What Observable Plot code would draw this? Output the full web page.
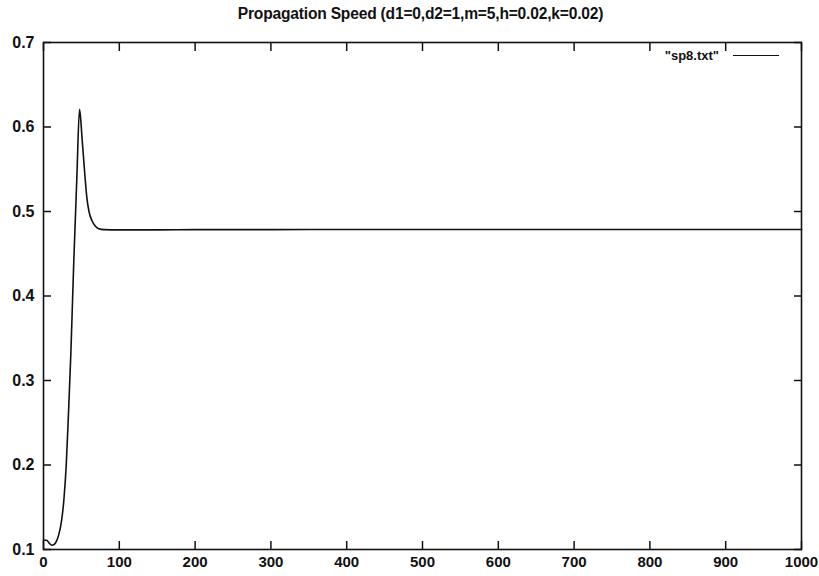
<!DOCTYPE html>
<html>
<head>
<meta charset="utf-8">
<script src="https://cdn.jsdelivr.net/npm/d3@7"></script>
<script src="https://cdn.jsdelivr.net/npm/@observablehq/plot@0.6"></script>
<style>
  html, body { margin: 0; padding: 0; background: #fff; }
  #wrap { position: relative; width: 819px; height: 576px; overflow: hidden; font-family: "Liberation Sans", Arial, sans-serif; }
  #title { height: 30px; line-height: 28px; text-align: center; font-size: 15.6px; font-weight: bold; color: #111; padding-left: 22px; box-sizing: border-box; letter-spacing: -0.2px; }
  #legend { position: absolute; top: 47px; right: 40px; height: 16px; display: flex; align-items: center; font-size: 13px; font-weight: bold; color: #111; }
  #legend .sw { display: inline-block; width: 46px; border-top: 1.5px solid #111; margin-left: 14px; }
</style>
</head>
<body>
<div id="wrap">
  <div id="title">Propagation Speed (d1=0,d2=1,m=5,h=0.02,k=0.02)</div>
  <div id="chart"></div>
  <div id="legend"><span>"sp8.txt"</span><span class="sw"></span></div>
</div>
<script>
const seriesName = "\"sp8.txt\"";
const xValues = [0, 4, 8, 12, 16, 20, 24, 27, 30, 33, 36, 40, 44, 47.5, 49, 51, 54, 57, 60, 64, 68, 72, 80, 100, 150, 200, 300, 400, 500, 600, 700, 800, 900, 1000];
const yValues = [0.111, 0.111, 0.107, 0.105, 0.108, 0.117, 0.135, 0.160, 0.200, 0.262, 0.330, 0.442, 0.540, 0.621, 0.610, 0.585, 0.550, 0.518, 0.500, 0.489, 0.483, 0.480, 0.4785, 0.4783, 0.4783, 0.4785, 0.4786, 0.4787, 0.4787, 0.4787, 0.4787, 0.4787, 0.4787, 0.4787];
const xTicks = [0, 100, 200, 300, 400, 500, 600, 700, 800, 900, 1000];
const yTicks = [0.1, 0.2, 0.3, 0.4, 0.5, 0.6, 0.7];

const data = xValues.map((x, i) => ({x, y: yValues[i]}));

const chart = Plot.plot({
  width: 819,
  height: 546,
  marginTop: 12,
  marginLeft: 43,
  marginRight: 18,
  marginBottom: 27,
  style: {fontFamily: "Liberation Sans, Arial, sans-serif", fontSize: "15px", fontWeight: "bold", color: "#111", background: "#fff"},
  x: {domain: [0, 1000]},
  y: {domain: [0.1, 0.7]},
  marks: [
    Plot.axisX(xTicks, {anchor: "bottom", tickSize: -8, tickPadding: 15, tickFormat: d => String(d), label: null, strokeWidth: 1.5}),
    Plot.axisX(xTicks, {anchor: "top", tickSize: -8, tickFormat: () => "", label: null, strokeWidth: 1.5}),
    Plot.axisY(yTicks, {anchor: "left", tickSize: -8, tickPadding: 17, tickFormat: d => d.toFixed(1), label: null, strokeWidth: 1.5, fontSize: 16}),
    Plot.axisY(yTicks, {anchor: "right", tickSize: -8, tickFormat: () => "", label: null, strokeWidth: 1.5}),
    Plot.frame({stroke: "#111", strokeWidth: 1.6}),
    Plot.line(data, {x: "x", y: "y", stroke: "#111", strokeWidth: 1.6, curve: "monotone-x"})
  ]
});
document.getElementById("chart").appendChild(chart);
</script>
</body>
</html>
